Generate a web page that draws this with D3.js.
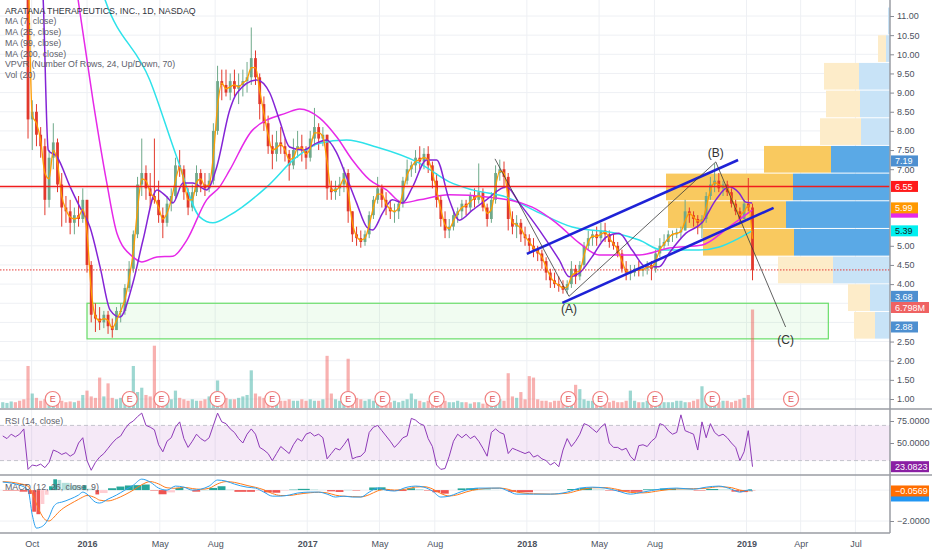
<!DOCTYPE html>
<html>
<head>
<meta charset="utf-8">
<script src="https://cdn.jsdelivr.net/npm/d3@7"></script>
<style>
  body { margin: 0; background: #fff; }
  svg text { font-family: "Liberation Sans", Arial, sans-serif; }
</style>
</head>
<body>
<div id="chart"></div>
<script>
// weekly bars, week 0 = 2015-08-14
const startWeek = "2015-08-14";
const firstOpen = 17.3;
const closes = [
  17.6,17.9,18.3,17.8,17.4,16.9,
  8.3,8.5,7.9,7.6,6.2,7.3,7.7,6.6,6.0,5.9,
  5.6,5.8,5.7,6.2,4.5,3.2,3.1,3.0,3.2,2.9,
  2.8,3.3,3.3,3.9,4.4,5.3,6.6,6.9,6.5,6.3,
  6.2,5.8,5.6,6.1,6.3,7.1,7.0,6.4,6.0,6.4,
  6.9,6.6,6.5,6.7,8.0,9.3,9.2,9.0,9.3,9.1,
  9.2,9.3,9.4,9.9,9.4,8.7,8.2,7.6,7.4,7.7,
  7.6,7.4,7.1,7.5,7.6,7.5,7.3,7.8,8.1,7.8,
  7.9,6.5,6.4,6.5,6.6,6.9,5.9,5.3,5.2,5.1,
  5.3,5.8,6.2,6.5,6.2,6.0,5.9,5.9,6.1,6.7,
  7.0,7.1,7.3,7.2,7.4,7.1,6.7,6.2,5.7,5.4,
  5.5,5.8,5.9,6.1,6.0,6.3,6.2,6.4,6.0,5.7,
  6.2,6.9,7.0,6.8,5.7,5.5,5.6,5.3,5.2,5.0,
  4.9,4.8,4.6,4.3,4.1,4.0,3.95,3.85,4.0,4.4,
  4.2,4.5,5.0,5.2,5.3,5.2,5.4,5.3,5.1,5.0,
  4.8,4.4,4.3,4.3,4.4,4.35,4.4,4.5,4.4,4.8,
  5.0,5.1,5.3,5.3,5.35,5.4,5.9,5.8,5.7,5.6,
  5.7,6.3,6.6,6.7,6.5,6.6,6.4,6.1,5.9,5.7,
  6.1,6.0,4.37
];
const highs = [
  18.2,18.5,18.9,18.4,18.0,17.5,
  17.2,8.8,8.7,8.1,7.8,7.5,8.2,7.8,6.9,6.3,
  6.2,6.0,6.3,6.5,6.2,4.6,3.5,3.4,3.3,3.3,
  3.1,3.4,3.5,4.0,4.6,5.4,6.8,7.8,7.1,6.9,
  7.8,6.7,6.0,6.3,6.5,7.3,7.5,7.1,6.5,6.6,
  7.1,7.0,6.9,6.9,8.2,9.7,9.6,9.6,9.5,9.6,
  9.5,9.6,9.8,10.7,10.1,9.5,8.9,8.4,7.9,8.0,
  8.1,7.8,7.5,7.8,8.0,7.9,7.6,8.0,8.6,8.2,
  8.1,7.9,6.7,6.7,6.8,7.05,7.0,5.9,5.5,5.4,
  5.4,5.9,6.3,6.8,6.6,6.4,6.2,6.1,6.2,6.8,
  7.25,7.2,7.5,7.6,7.55,7.6,7.2,6.9,6.3,5.9,
  5.7,5.9,6.0,6.2,6.2,6.4,6.5,7.15,6.5,6.1,
  6.4,7.1,7.25,7.2,6.9,5.9,5.8,5.7,5.5,5.3,
  5.2,5.0,4.9,4.7,4.4,4.3,4.2,4.1,4.1,4.6,
  4.5,4.6,5.1,5.4,5.4,5.5,5.6,5.6,5.4,5.3,
  5.1,4.9,4.6,4.5,4.5,4.6,4.5,4.6,4.6,4.9,
  5.2,5.3,5.4,5.4,5.45,5.5,6.2,6.0,5.9,5.8,
  5.8,6.4,6.8,7.15,6.9,6.7,6.7,6.5,6.2,6.0,
  6.2,6.77,6.1
];
const lows = [
  17.0,17.3,17.6,17.2,16.8,16.3,
  7.8,7.5,7.6,7.3,5.8,6.0,7.0,6.4,5.5,5.6,
  5.3,5.3,5.5,5.6,4.3,3.0,2.75,2.8,2.85,2.7,
  2.6,2.8,3.0,3.2,3.8,4.3,5.2,6.3,6.2,6.0,
  6.1,5.6,5.2,5.5,5.9,6.2,6.8,6.2,5.8,5.9,
  6.3,6.4,6.3,6.4,6.6,7.9,8.8,8.9,8.8,8.9,
  8.7,8.9,9.0,9.2,9.2,8.3,8.0,7.4,7.0,7.2,
  7.4,7.2,6.7,7.0,7.3,7.2,7.0,7.2,7.6,7.5,
  7.6,6.2,6.2,6.2,6.3,6.4,5.6,5.1,5.0,4.95,
  5.0,5.2,5.7,6.1,6.0,5.8,5.7,5.6,5.7,6.0,
  6.6,6.8,6.9,7.0,7.0,6.9,6.5,6.0,5.5,5.2,
  5.2,5.4,5.6,5.7,5.8,5.9,6.0,6.1,5.9,5.5,
  5.6,6.1,6.7,6.5,5.4,5.3,5.2,5.1,5.0,4.8,
  4.7,4.6,4.4,4.1,3.9,3.9,3.8,3.75,3.75,3.9,
  4.0,4.1,4.4,4.9,5.0,5.0,5.1,5.1,4.95,4.9,
  4.7,4.3,4.1,4.1,4.2,4.2,4.2,4.25,4.1,4.3,
  4.7,4.9,5.0,5.1,5.2,5.2,5.4,5.6,5.5,5.3,
  5.2,5.6,6.2,6.4,6.4,6.3,6.3,6.0,5.8,5.6,
  5.7,5.9,4.1
];
// millions of shares
const volumes = [
  0.4,0.35,0.45,0.4,0.5,0.6,2.9,1.0,0.7,0.5,
  0.6,0.5,0.45,0.4,0.5,0.4,0.45,0.4,0.5,0.9,
  1.2,0.8,0.7,2.1,0.8,1.7,0.7,0.6,0.7,0.9,
  1.0,2.9,1.1,1.4,0.9,0.8,4.3,0.8,0.7,0.6,
  0.6,1.2,0.7,0.6,0.5,0.6,0.5,0.5,0.6,0.8,
  1.0,1.9,0.9,0.7,0.6,0.6,0.7,0.8,0.9,2.6,
  1.0,0.8,0.7,0.6,0.7,0.6,0.5,0.5,0.6,0.5,
  0.5,0.6,0.5,0.6,0.5,0.5,0.6,3.6,1.0,0.6,
  0.5,0.6,3.4,1.0,0.7,0.6,0.5,0.6,0.5,0.5,
  0.4,0.5,0.4,0.5,0.4,0.5,0.6,1.0,0.6,0.5,
  0.4,0.5,0.4,0.5,0.6,0.5,0.4,0.4,0.5,0.4,
  0.4,0.3,0.4,0.4,0.3,0.4,0.5,0.9,0.6,0.5,
  2.4,0.8,0.7,1.1,0.6,2.2,2.1,0.6,0.5,0.5,
  0.4,0.5,0.5,0.6,0.7,0.9,1.6,1.3,0.6,0.5,
  0.5,0.4,0.5,0.4,0.4,0.5,0.4,0.4,0.5,1.2,
  0.5,0.4,0.4,0.5,0.4,0.4,0.5,0.4,0.4,0.4,
  0.5,0.5,0.4,0.4,0.5,0.6,1.5,0.6,0.5,0.5,
  0.4,0.5,0.5,0.4,0.5,0.6,0.7,0.9,6.798
];
const rsi = [
  58,55,60,57,60,66,20,25,24,26,
  22,28,42,40,37,39,35,38,50,56,
  30,19,28,34,38,44,50,55,58,66,
  72,75,80,84,70,68,65,48,40,52,
  56,68,74,55,45,52,60,55,52,56,
  70,84,74,72,66,62,55,50,60,66,
  60,45,42,38,30,38,46,42,38,48,
  55,52,60,62,58,60,56,32,38,44,
  42,48,55,32,34,35,40,62,68,70,
  64,58,52,45,50,56,58,78,76,72,
  70,55,46,25,20,21,35,52,60,56,
  60,55,58,52,44,35,62,66,62,60,
  38,44,42,40,38,40,34,36,32,30,
  25,28,23,42,55,46,52,60,72,70,
  66,62,68,72,50,45,45,42,44,35,
  30,47,48,46,52,56,72,70,64,60,
  62,82,64,62,60,42,74,56,72,62,
  58,60,56,50,45,30,40,64,23.0823
];

// MACD read at these week numbers
const macdWeeks = [0,4,6,7,8,9,10,11,12,13,14,16,18,19,20,22,23,25,27,29,31,33,35,37,39,41,43,45,47,49,
  51,53,55,58,60,62,64,66,68,70,73,75,77,79,81,83,85,87,89,91,93,96,98,100,102,104,106,108,110,113,
  116,118,120,122,126,130,134,137,140,143,146,149,152,156,160,164,167,170,173,175,177,178];
const macdLine = [0.52,0.32,0.0,-1.6,-2.46,-2.4,-2.2,-1.75,-1.1,-0.84,
  -0.78,-0.58,-0.32,-0.13,-0.26,-0.78,-0.84,-0.58,-0.32,0.0,
  0.32,0.71,0.52,0.13,0.0,0.26,0.19,0.0,0.06,0.26,
  0.65,0.58,0.39,0.19,0.13,-0.13,-0.39,-0.39,-0.32,-0.19,
  -0.13,-0.13,-0.26,-0.45,-0.39,-0.45,-0.45,-0.13,0.13,0.0,
  -0.06,0.19,0.26,0.19,-0.06,-0.45,-0.39,-0.19,0.0,0.13,
  0.13,0.13,-0.06,-0.26,-0.26,-0.26,-0.13,0.13,0.19,0.13,
  -0.06,-0.26,-0.13,0.06,0.13,0.06,0.19,0.26,0.06,-0.13,
  0.0,-0.0569];
const signalLine = [0.55,0.42,0.25,-0.2,-0.9,-1.5,-1.9,-2.0,-1.8,-1.5,
  -1.25,-0.9,-0.6,-0.45,-0.35,-0.5,-0.65,-0.7,-0.55,-0.3,
  0.0,0.35,0.55,0.4,0.15,0.12,0.18,0.1,0.05,0.12,
  0.4,0.55,0.5,0.3,0.18,0.02,-0.22,-0.35,-0.35,-0.27,
  -0.17,-0.14,-0.18,-0.33,-0.4,-0.42,-0.44,-0.3,-0.05,0.05,
  0.0,0.07,0.2,0.22,0.08,-0.22,-0.38,-0.3,-0.12,0.06,
  0.12,0.13,0.05,-0.12,-0.24,-0.26,-0.2,0.0,0.15,0.16,
  0.04,-0.15,-0.18,-0.04,0.08,0.09,0.12,0.22,0.16,0.0,
  -0.05,-0.04];

// moving averages: [week, price]
const ma25Pts = [[8.5,13.5],[9.6,11.42],[10.8,7.5],[12.9,7.32],[16,6.54],[18.3,6.01],[20.7,5.49],[23.1,4.45],
  [25.5,3.32],[27.8,3.14],[30.9,4.03],[33.3,5.15],[36.6,6.46],[39,6.27],[40.4,6.12],[42.8,6.64],[45.1,6.64],
  [48.4,6.46],[50.8,7.06],[53.9,8.55],[55.6,8.99],[60.3,9.33],[63.4,8.99],[65.7,8.28],[68.1,7.58],[71.2,7.5],
  [74.5,7.68],[76.9,7.76],[79.3,7.42],[81.6,6.8],[84,6.12],[86.4,5.49],[87.8,5.41],[90.2,5.86],[92.5,6.2],
  [94.9,6.12],[97.3,6.54],[100.6,7.24],[103,7.24],[106,6.2],[108.4,5.67],[111.5,5.93],[114.8,6.2],[119.6,6.54],
  [122.6,6.12],[127.4,5.41],[132.1,4.63],[134.5,4.19],[136.9,4.29],[139.9,4.71],[143.3,5.23],[146.3,5.33],
  [149.4,4.89],[152.7,4.45],[155.8,4.45],[158.2,4.81],[162.2,5.33],[166,5.6],[169.3,6.2],[172.4,6.54],
  [174.8,6.38],[176.4,6.14],[177.9,6.12]];
const ma99Pts = [[16.5,12.5],[17.9,11.42],[21.4,8.81],[24.7,6.64],[27.1,5.33],[30.9,4.71],[33,4.58],[36.6,4.71],
  [40.4,4.73],[43.7,5.15],[48.4,6.2],[51.5,6.54],[53.9,6.98],[59.3,8.02],[67.4,8.47],[70.5,8.57],[75.2,8.34],
  [79.3,7.84],[83,7.24],[87.1,6.72],[91.1,6.46],[94.9,6.12],[98.9,6.2],[106,6.33],[115.5,6.27],[125.7,6.01],
  [131.4,5.6],[136.9,5.07],[141.6,4.76],[151.1,4.76],[158.2,4.94],[166,5.02],[172.4,5.49],[177.9,5.93]];
const ma200Pts = [[20,13.0],[24.3,11.42],[34.9,9.33],[41.3,7.32],[46.8,5.75],[49.9,5.6],[53.9,5.8],[62.7,6.54],
  [69.8,7.32],[75.2,7.68],[81.6,7.76],[88.7,7.58],[98.9,7.16],[106,6.67],[111.5,6.46],[119.6,6.27],[127.4,5.86],
  [135.2,5.49],[145.6,5.33],[151.1,5.15],[156.5,4.89],[165.3,4.89],[170.1,4.97],[174.8,5.2],[177.9,5.39]];
const ma7Last = 5.99;   // daily MA(7) value shown on the scale

// volume profile, 12 visible rows from 2.55 up
const vpvrBottom = 2.55;
const vpvrRow = 0.7225;
const vpvrUp = [15,20,57,96,104,97,59,29,30,31,4,2];
const vpvrDown = [21,22,55,91,118,127,67,41,34,35,8,0];
const vpvrValueArea = [3,4,5,6];

const earnings = ["2015-11-05","2016-03-12","2016-05-04","2016-08-05","2016-11-04","2017-03-10","2017-05-06",
  "2017-08-04","2017-11-05","2018-03-11","2018-05-03","2018-08-02","2018-11-05","2019-03-16"];

const resistance = 6.55;
const lastPrice = 4.37;
const zoneDates = ["2016-01-01","2019-05-17"];
const zonePrices = [2.57, 3.5];
const channelUpper = [["2018-01-01",4.79],["2018-12-18",7.24]];
const channelLower = [["2018-03-01",3.51],["2019-02-15",5.99]];
const wave = [["2017-11-09",7.27],["2018-03-12",3.68],["2018-11-11",7.19],["2019-03-07",2.88]];
const waveNames = ["","(A)","(B)","(C)"];

const priceTicks = [1,1.5,2,2.5,3,3.5,4,4.5,5,5.5,6,6.5,7,7.5,8,8.5,9,9.5,10,10.5,11];
const rsiTicks = [75,50];
const macdTicks = [0,-2];
const xTickDates = ["2015-10-01","2016-01-01","2016-05-01","2016-08-01","2017-01-01","2017-05-01","2017-08-01",
  "2018-01-01","2018-05-01","2018-08-01","2019-01-01","2019-04-01","2019-07-01"];
const xTickLabels = ["Oct","2016","May","Aug","2017","May","Aug","2018","May","Aug","2019","Apr","Jul"];

const legendLines = ["ARATANA THERAPEUTICS, INC., 1D, NASDAQ","MA (7, close)","MA (25, close)","MA (99, close)",
  "MA (200, close)","VPVR (Number Of Rows, 24, Up/Down, 70)","Vol (20)"];

// ---------------------------------------------------------------
const W = 932, H = 550;
const right = 890;
const mainBottom = 408, rsiTop = 409, rsiBottom = 475, macdBottom = 533;
const parse = d3.timeParse("%Y-%m-%d");
const start = parse(startWeek);
const weekDate = j => new Date(start.getTime() + j * 7 * 864e5);

const x = d3.scaleTime().domain([parse("2016-01-01"), parse("2019-01-01")]).range([87, 746.5]);
const y = d3.scaleLinear().domain([1, 11]).range([399, 16]);
const yVol = d3.scaleLinear().domain([0, 6.798]).range([mainBottom, 309.5]);
const yRsi = d3.scaleLinear().domain([50, 75]).range([443, 421]);
const yMacd = d3.scaleLinear().domain([0, -2]).range([490.1, 521]);

const svg = d3.select("#chart").append("svg").attr("width", W).attr("height", H);
svg.append("rect").attr("width", W).attr("height", H).attr("fill", "#fff");

const defs = svg.append("defs");
defs.append("clipPath").attr("id", "clipMain").append("rect").attr("width", right).attr("height", mainBottom);
defs.append("clipPath").attr("id", "clipRsi").append("rect").attr("y", rsiTop).attr("width", right).attr("height", rsiBottom - rsiTop);
defs.append("clipPath").attr("id", "clipMacd").append("rect").attr("y", rsiBottom).attr("width", right).attr("height", macdBottom - rsiBottom);

// grid
const grid = svg.append("g").attr("stroke", "#eef0f4").attr("stroke-width", 1);
grid.selectAll(".v").data(xTickDates).join("line")
  .attr("x1", d => x(parse(d))).attr("x2", d => x(parse(d))).attr("y1", 0).attr("y2", macdBottom);
grid.selectAll(".h").data(priceTicks).join("line")
  .attr("x1", 0).attr("x2", right).attr("y1", d => y(d)).attr("y2", d => y(d));
grid.selectAll(".m").data(macdTicks).join("line")
  .attr("x1", 0).attr("x2", right).attr("y1", d => yMacd(d)).attr("y2", d => yMacd(d));

const main = svg.append("g").attr("clip-path", "url(#clipMain)");

// volume profile
const vpRows = vpvrUp.map((u, i) => ({ i, up: u, down: vpvrDown[i], lo: vpvrBottom + i * vpvrRow, hi: vpvrBottom + (i + 1) * vpvrRow }));
const vpW = d3.scaleLinear().domain([0, d3.max(vpRows, r => r.up + r.down)]).range([0, 224]);
const vp = main.append("g");
vpRows.forEach(r => {
  const va = vpvrValueArea.includes(r.i);
  const top = y(r.hi), h = y(r.lo) - y(r.hi) - 1;
  vp.append("rect").attr("x", right - vpW(r.up)).attr("y", top).attr("width", vpW(r.up)).attr("height", h)
    .attr("fill", va ? "#5aa9e6" : "#c8e3f7");
  vp.append("rect").attr("x", right - vpW(r.up + r.down)).attr("y", top).attr("width", vpW(r.down)).attr("height", h)
    .attr("fill", va ? "#f9c95f" : "#fdecc9");
});

// support zone
main.append("rect")
  .attr("x", x(parse(zoneDates[0]))).attr("y", y(zonePrices[1]))
  .attr("width", x(parse(zoneDates[1])) - x(parse(zoneDates[0])))
  .attr("height", y(zonePrices[0]) - y(zonePrices[1]))
  .attr("fill", "rgba(80,220,80,0.08)").attr("stroke", "#6ade6a").attr("stroke-width", 1.2);

const bars = closes.map((c, j) => ({
  date: weekDate(j), open: j ? closes[j - 1] : firstOpen, close: c, high: highs[j], low: lows[j], vol: volumes[j]
}));
const upCol = "#6fa98a", downCol = "#e2382c";

// volume
main.append("g").selectAll("rect").data(bars).join("rect")
  .attr("x", d => x(d.date) - 1.6).attr("width", 3.2)
  .attr("y", d => yVol(d.vol)).attr("height", d => mainBottom - yVol(d.vol))
  .attr("fill", d => d.close >= d.open ? "rgba(38,166,154,0.45)" : "rgba(239,83,80,0.45)");

// earnings markers
const eg = main.append("g").selectAll("g").data(earnings).join("g")
  .attr("transform", d => `translate(${x(parse(d))},399)`);
eg.append("circle").attr("r", 7.5).attr("fill", "#fff").attr("stroke", "#f08080").attr("stroke-width", 1.2);
eg.append("text").attr("text-anchor", "middle").attr("y", 3.2).attr("font-size", 9).attr("fill", "#e0555a").text("E");

// candles
const cg = main.append("g");
cg.selectAll("line").data(bars).join("line")
  .attr("x1", d => x(d.date)).attr("x2", d => x(d.date))
  .attr("y1", d => y(Math.max(d.high, d.open, d.close))).attr("y2", d => y(Math.min(d.low, d.open, d.close)))
  .attr("stroke", d => d.close >= d.open ? upCol : downCol).attr("stroke-width", 1);
cg.selectAll("rect").data(bars).join("rect")
  .attr("x", d => x(d.date) - 1.4).attr("width", 2.8)
  .attr("y", d => y(Math.max(d.open, d.close)))
  .attr("height", d => Math.max(1, Math.abs(y(d.open) - y(d.close))))
  .attr("fill", d => d.close >= d.open ? upCol : downCol);

// moving averages
const maLine = d3.line().x(d => x(weekDate(d[0]))).y(d => y(d[1])).curve(d3.curveMonotoneX);
const ma7 = closes.map((c, j) => [j, j ? (c + closes[j - 1]) / 2 : c]);
main.append("path").attr("d", maLine(ma200Pts)).attr("fill", "none").attr("stroke", "#2ee2ea").attr("stroke-width", 1.5);
main.append("path").attr("d", maLine(ma99Pts)).attr("fill", "none").attr("stroke", "#e629e8").attr("stroke-width", 1.5);
main.append("path").attr("d", maLine(ma25Pts)).attr("fill", "none").attr("stroke", "#8424d6").attr("stroke-width", 1.5);
main.append("path").attr("d", maLine(ma7)).attr("fill", "none").attr("stroke", "#ff9d00").attr("stroke-width", 1.3);

// horizontal levels
main.append("line").attr("x1", 0).attr("x2", right).attr("y1", y(resistance)).attr("y2", y(resistance))
  .attr("stroke", "#f01d1d").attr("stroke-width", 1.5);
main.append("line").attr("x1", 0).attr("x2", right).attr("y1", y(lastPrice)).attr("y2", y(lastPrice))
  .attr("stroke", "#e53935").attr("stroke-width", 1).attr("stroke-dasharray", "1.5,1.5");

// channel + wave
const ptLine = d3.line().x(d => x(parse(d[0]))).y(d => y(d[1]));
[channelUpper, channelLower].forEach(c => {
  main.append("path").attr("d", ptLine(c)).attr("fill", "none").attr("stroke", "#1e22d6").attr("stroke-width", 2.6);
});
main.append("path").attr("d", ptLine(wave)).attr("fill", "none").attr("stroke", "#3a3a3a").attr("stroke-width", 0.8);
main.selectAll(".wl").data(wave.slice(1)).join("text")
  .attr("x", d => x(parse(d[0]))).attr("y", (d, i) => i === 1 ? y(d[1]) - 5 : y(d[1]) + 17)
  .attr("text-anchor", "middle").attr("font-size", 12).attr("fill", "#333")
  .text((d, i) => waveNames[i + 1]);

// legend
svg.append("g").selectAll("text").data(legendLines).join("text")
  .attr("x", 5).attr("y", (d, i) => 13.7 + i * 10.75)
  .attr("font-size", 8.8).attr("fill", (d, i) => i ? "#5d606b" : "#2f323b")
  .text(d => d);

// RSI panel
const rsiG = svg.append("g").attr("clip-path", "url(#clipRsi)");
rsiG.append("rect").attr("x", 0).attr("width", right).attr("y", yRsi(70)).attr("height", yRsi(30) - yRsi(70))
  .attr("fill", "rgba(156,39,176,0.1)");
[70, 30].forEach(v => rsiG.append("line").attr("x1", 0).attr("x2", right).attr("y1", yRsi(v)).attr("y2", yRsi(v))
  .attr("stroke", "#c3c3cc").attr("stroke-dasharray", "4,3"));
rsiG.append("path").datum(rsi)
  .attr("d", d3.line().x((d, j) => x(weekDate(j))).y(d => yRsi(d)))
  .attr("fill", "none").attr("stroke", "#8e3ab8").attr("stroke-width", 1);
svg.append("text").attr("x", 5).attr("y", 424).attr("font-size", 8.8).attr("fill", "#5d606b").text("RSI (14, close)");

// MACD panel
const macdG = svg.append("g").attr("clip-path", "url(#clipMacd)");
const macd = macdWeeks.map((j, k) => ({ j, m: macdLine[k], s: signalLine[k], h: macdLine[k] - signalLine[k] }));
macdG.selectAll("rect").data(macd).join("rect")
  .attr("x", d => x(weekDate(d.j)))
  .attr("width", (d, k) => k < macd.length - 1 ? Math.max(1, x(weekDate(macd[k + 1].j)) - x(weekDate(d.j)) - 0.5) : 3)
  .attr("y", d => d.h >= 0 ? yMacd(d.h) : yMacd(0))
  .attr("height", d => Math.abs(yMacd(d.h) - yMacd(0)))
  .attr("fill", (d, k) => {
    const prev = k ? macd[k - 1].h : d.h;
    if (d.h >= 0) return d.h >= prev ? "#26a69a" : "#b2dfdb";
    return d.h <= prev ? "#ef5350" : "#ffcdd2";
  });
const mLine = key => d3.line().x(d => x(weekDate(d.j))).y(d => yMacd(d[key])).curve(d3.curveMonotoneX);
macdG.append("path").datum(macd).attr("d", mLine("s")).attr("fill", "none").attr("stroke", "#ff7a1a").attr("stroke-width", 1);
macdG.append("path").datum(macd).attr("d", mLine("m")).attr("fill", "none").attr("stroke", "#2aa0f0").attr("stroke-width", 1);
svg.append("text").attr("x", 5).attr("y", 490).attr("font-size", 8.8).attr("fill", "#5d606b").text("MACD (12, 26, close, 9)");

// frame lines
svg.append("line").attr("x1", 0).attr("x2", W).attr("y1", 409).attr("y2", 409).attr("stroke", "#9a9ca3").attr("stroke-width", 1.5);
svg.append("line").attr("x1", 0).attr("x2", W).attr("y1", 475).attr("y2", 475).attr("stroke", "#9a9ca3").attr("stroke-width", 1.5);
svg.append("line").attr("x1", 0).attr("x2", right).attr("y1", macdBottom).attr("y2", macdBottom).attr("stroke", "#9a9ca3").attr("stroke-width", 1.5);
svg.append("line").attr("x1", right).attr("x2", right).attr("y1", 0).attr("y2", macdBottom).attr("stroke", "#9a9ca3").attr("stroke-width", 1.5);

// right-hand value tags (positions computed first so covered scale labels can be left out)
const f2 = d3.format(".2f");
const volLast = volumes[volumes.length - 1];
const macdLast = macdLine[macdLine.length - 1];
const tags = [
  { y: y(wave[2][1]) - 1, label: f2(wave[2][1]), bg: "#4d8fd0", fg: "#fff" },
  { y: y(resistance), label: f2(resistance), bg: "#ff1a1a", fg: "#fff" },
  { y: y(ma99Pts[ma99Pts.length - 1][1]) + 2, label: "", bg: "#e629e8", fg: "#fff" },
  { y: y(ma7Last), label: f2(ma7Last), bg: "#ff9800", fg: "#fff" },
  { y: y(ma200Pts[ma200Pts.length - 1][1]), label: f2(ma200Pts[ma200Pts.length - 1][1]), bg: "#00f0f0", fg: "#1c1c1c" },
  { y: y(wave[1][1]), label: f2(wave[1][1]), bg: "#4d8fd0", fg: "#fff" },
  { y: yVol(volLast) - 2, label: d3.format(".4~s")(volLast * 1e6), bg: "#ef6262", fg: "#fff", w: 38 },
  { y: y(wave[3][1]), label: f2(wave[3][1]), bg: "#4d8fd0", fg: "#fff" },
  { y: yRsi(rsi[rsi.length - 1]), label: d3.format(".4f")(rsi[rsi.length - 1]), bg: "#8a1fa3", fg: "#fff", w: 38 },
  { y: yMacd(macdLast) + 5, label: "", bg: "#2196f3", fg: "#fff", w: 38 },
  { y: yMacd(macdLast), label: d3.format(".4f")(macdLast), bg: "#ff6d00", fg: "#fff", w: 38 }
];
const covered = v => tags.some(t => Math.abs(y(v) - t.y) < 7);

// axes
function styleAxis(g) {
  g.select(".domain").remove();
  g.selectAll("line").attr("stroke", "#8a8d95");
  g.selectAll("text").attr("fill", "#4c525e").style("font-size", "9px").style("font-family", '"Liberation Sans", Arial, sans-serif');
}
svg.append("g").attr("transform", `translate(${right},0)`)
  .call(d3.axisRight(y).tickValues(priceTicks.filter(v => !covered(v))).tickFormat(d3.format(".2f")).tickSize(4).tickPadding(3))
  .call(styleAxis);
svg.append("g").attr("transform", `translate(${right},0)`)
  .call(d3.axisRight(yRsi).tickValues(rsiTicks).tickFormat(d3.format(".4f")).tickSize(4).tickPadding(3)).call(styleAxis);
svg.append("g").attr("transform", `translate(${right},0)`)
  .call(d3.axisRight(yMacd).tickValues(macdTicks.filter(v => Math.abs(yMacd(v) - yMacd(macdLast)) > 8))
    .tickFormat(d3.format(".4f")).tickSize(4).tickPadding(3)).call(styleAxis);

const xAxis = svg.append("g").attr("transform", `translate(0,${macdBottom})`)
  .call(d3.axisBottom(x).tickValues(xTickDates.map(parse)).tickFormat((d, i) => xTickLabels[i]).tickSize(0).tickPadding(8));
xAxis.call(styleAxis);
xAxis.selectAll("text").attr("font-weight", (d, i) => /^\d{4}$/.test(xTickLabels[i]) ? "bold" : "normal");

tags.forEach(t => {
  svg.append("rect").attr("x", right + 1).attr("y", t.y - 5.5).attr("width", t.w || 27).attr("height", 11).attr("fill", t.bg);
  if (t.label) svg.append("text").attr("x", right + 5).attr("y", t.y + 3.2).attr("font-size", 9).attr("fill", t.fg).text(t.label);
});
</script>
</body>
</html>
